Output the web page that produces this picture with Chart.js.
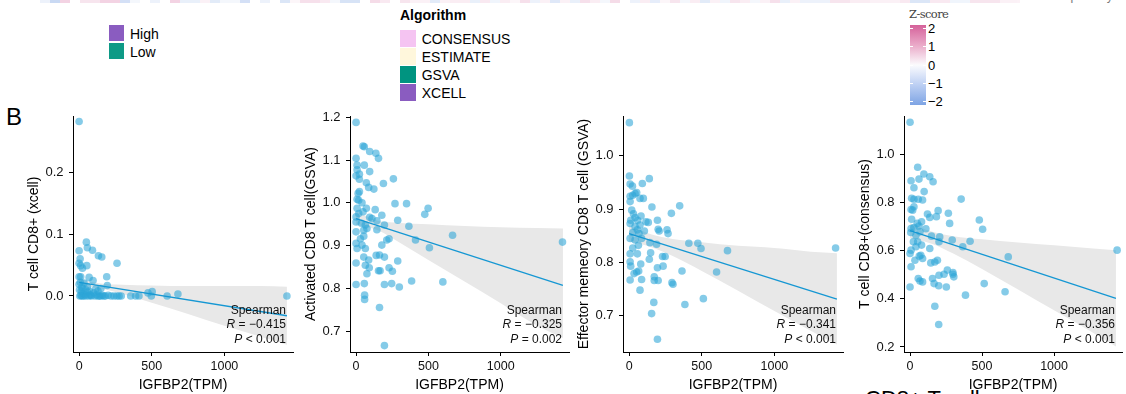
<!DOCTYPE html>
<html>
<head>
<meta charset="utf-8">
<script src="https://cdn.jsdelivr.net/npm/chart.js@4.4.1/dist/chart.umd.min.js"></script>
<style>
  body { margin:0; background:#fff; width:1126px; height:394px; overflow:hidden; position:relative;
         font-family:'Liberation Sans', Arial, sans-serif; color:#000; }
  .abs { position:absolute; white-space:nowrap; }
  canvas { position:absolute; }
  .lbl { position:absolute; font-size:14px; line-height:14px; white-space:nowrap; }
</style>
</head>
<body>
<div id="strip" class="abs" style="left:0;top:0;height:3px;width:1020px;opacity:0.55;display:flex"></div>
<div class="abs" style="left:1027px;top:-9px;font-size:12px;line-height:12px;color:#777;font-family:'Liberation Mono',monospace">tumor purity</div>
<div id="legends"></div>
<div class="abs" style="left:6px;top:104.7px;font-size:24px;line-height:24px">B</div>
<div class="abs" style="left:865px;top:388px;font-size:22px;line-height:22px">CD8+ T cell</div>
<div id="panels"></div>
<script>
// top heatmap strip (z-scores of the bottom row that is cut off)
const stripZ = [0,0,0,0,-0.5,-1.5,1,0,0.6,0.6,1,1,-1.2,-0.3,0,-0.5,0,1,-0.6,-0.6,
  0.3,-0.8,-0.3,-0.3,-1.2,0,-0.5,0,-1,0.2,0.7,0.7,0.5,-0.3,-1.1,-1.1,0,0.8,0.5,0,
  0.6,0.3,0.3,-0.8,0.3,0.4,0.4,-0.6,0.5,-0.4,0.4,0.2,0.7,-0.5,0.3,-0.9,0.3,-0.6,0.7,0.4,
  -0.3,0.8,0,-0.5,0.4,-0.7,0.2,0.6,-0.3,0.4,-0.8,0.3,-0.4,0.6,0.4,-0.3,0.3,0.7,-0.6,0.3,
  -0.5,-0.5,-0.5,0.6,0.6,0.4,0.4,0.3,0.3,0.3,0.5,-1,-1,0.5,0.5,-0.4,-0.4,0.6,0.6,0.6,0.3,0.3];

const groupLabels = ['High', 'Low'];
const groupColors = ['#8a5cc0', '#0e9a86'];
const algoLabels = ['CONSENSUS', 'ESTIMATE', 'GSVA', 'XCELL'];
const algoColors = ['#f5c4f2', '#fff7dc', '#009480', '#8a5cc0'];
const zTicks = ['2', '1', '0', '\u22121', '\u22122'];

// scatter panels: IGFBP2 (TPM) vs immune score
const xTicks = [0, 500, 1000];
const fitX = [0, 1430];
const bandX = [0, 150, 300, 500, 750, 1000, 1250, 1430];
const yTitles = ['T cell CD8+ (xcell)', 'Activated CD8 T cell(GSVA)',
  'Effector memeory CD8 T cell (GSVA)', 'T cell CD8+(consensus)'];
const statR = ['\u22120.415', '\u22120.325', '\u22120.341', '\u22120.356'];
const statP = ['< 0.001', '= 0.002', '< 0.001', '< 0.001'];

const p1Ticks = [0, 0.1, 0.2];
const p1Fit = [0.022, -0.032];
const p1BandHi = [0.028, 0.020, 0.018, 0.017, 0.016, 0.016, 0.016, 0.015];
const p1BandLo = [0.016, 0.012, 0.003, -0.011, -0.029, -0.048, -0.066, -0.079];
const p1Points = [[0,0.282],[50,0.087],[57,0.078],[0,0.073],[92,0.074],[7,0.060],[133,0.065],[156,0.063],
  [0,0.053],[11,0.049],[23,0.045],[53,0.049],[261,0.053],[0,0.031],[11,0.031],[69,0.030],[96,0.025],
  [190,0.031],[194,0.017],[0,0.019],[34,0.021],[57,0.015],[114,0.011],[3,0.010],[15,0.008],[28,0.004],
  [40,0.002],[60,0.006],[75,0.002],[85,0.000],[100,0.005],[120,0.002],[140,0.000],[160,0.001],[180,0.000],
  [200,0.001],[220,0.000],[240,0.000],[260,0.000],[275,0.000],[290,0.000],[5,0.000],[12,0.001],[20,0.000],
  [30,0.000],[45,0.000],[65,0.000],[80,0.001],[110,0.000],[130,0.000],[150,0.000],[170,0.000],[355,0.000],
  [389,0.000],[412,0.000],[474,0.005],[503,0.007],[497,0.000],[606,0.000],[680,0.003],[1430,0.000],
  [8,0.022],[18,0.014],[25,0.012],[45,0.010],[70,0.008],[130,0.008],[150,0.012]];

const p2Ticks = [0.7, 0.8, 0.9, 1.0, 1.1, 1.2];
const p2Fit = [0.963, 0.807];
const p2BandHi = [0.980, 0.958, 0.953, 0.950, 0.946, 0.943, 0.941, 0.940];
const p2BandLo = [0.948, 0.936, 0.907, 0.866, 0.816, 0.765, 0.713, 0.684];
const p2Points = [[0,1.188],[0,1.104],[7,1.088],[7,1.077],[23,1.067],[0,1.063],[23,1.055],[48,1.133],
  [57,1.131],[57,1.088],[94,1.120],[137,1.116],[155,1.104],[94,1.073],[71,1.047],[87,1.036],[123,1.032],
  [189,1.045],[258,1.056],[23,1.026],[14,1.022],[7,1.008],[18,1.006],[41,1.000],[7,0.987],[0,0.967],
  [18,0.975],[48,0.979],[71,0.987],[132,0.984],[269,0.998],[349,0.998],[498,0.987],[475,0.973],[94,0.966],
  [110,0.963],[144,0.958],[178,0.971],[288,0.959],[0,0.955],[37,0.952],[64,0.948],[0,0.932],[53,0.936],
  [75,0.940],[144,0.937],[196,0.948],[365,0.945],[30,0.916],[53,0.922],[0,0.905],[41,0.901],[7,0.893],
  [64,0.893],[178,0.901],[212,0.913],[228,0.916],[411,0.913],[507,0.895],[667,0.924],[1427,0.908],
  [53,0.873],[87,0.866],[139,0.877],[162,0.878],[196,0.873],[0,0.859],[64,0.854],[91,0.848],[75,0.834],
  [155,0.841],[166,0.841],[228,0.848],[251,0.840],[288,0.864],[0,0.809],[57,0.811],[196,0.809],[246,0.811],
  [299,0.803],[384,0.817],[600,0.815],[59,0.784],[59,0.774],[162,0.755],[196,0.666]];

const p3Ticks = [0.7, 0.8, 0.9, 1.0];
const p3Fit = [0.854, 0.731];
const p3BandHi = [0.869, 0.853, 0.844, 0.838, 0.831, 0.827, 0.820, 0.817];
const p3BandLo = [0.839, 0.829, 0.812, 0.784, 0.747, 0.709, 0.672, 0.646];
const p3Points = [[2,1.062],[2,0.962],[7,0.947],[23,0.943],[7,0.924],[25,0.926],[41,0.929],[52,0.931],
  [91,0.948],[139,0.957],[75,0.920],[98,0.920],[7,0.914],[157,0.904],[348,0.906],[18,0.898],[30,0.891],
  [11,0.879],[41,0.884],[59,0.879],[82,0.887],[116,0.876],[132,0.875],[195,0.879],[291,0.892],[7,0.873],
  [41,0.867],[75,0.870],[105,0.859],[207,0.859],[200,0.862],[261,0.861],[268,0.854],[25,0.856],[57,0.861],
  [68,0.854],[7,0.845],[41,0.842],[86,0.845],[143,0.837],[189,0.834],[64,0.832],[25,0.827],[411,0.836],
  [473,0.836],[495,0.826],[677,0.822],[1421,0.827],[7,0.816],[57,0.816],[148,0.818],[139,0.806],[248,0.811],
  [7,0.801],[80,0.797],[11,0.793],[234,0.793],[195,0.790],[230,0.811],[34,0.779],[52,0.782],[66,0.784],
  [364,0.784],[602,0.782],[7,0.767],[86,0.768],[173,0.766],[200,0.766],[295,0.762],[302,0.759],[173,0.773],
  [75,0.748],[170,0.725],[155,0.704],[384,0.721],[511,0.732],[195,0.656]];

const p4Ticks = [0.2, 0.4, 0.6, 0.8, 1.0];
const p4Fit = [0.683, 0.402];
const p4BandHi = [0.715, 0.679, 0.660, 0.647, 0.634, 0.622, 0.610, 0.602];
const p4BandLo = [0.651, 0.629, 0.588, 0.524, 0.439, 0.352, 0.266, 0.202];
const p4Points = [[0,1.133],[53,0.946],[7,0.890],[62,0.897],[96,0.918],[137,0.907],[160,0.886],[27,0.861],
  [98,0.845],[11,0.817],[57,0.813],[87,0.810],[27,0.813],[7,0.771],[18,0.768],[27,0.782],[355,0.814],
  [121,0.752],[137,0.738],[195,0.766],[183,0.741],[266,0.755],[275,0.713],[481,0.727],[504,0.689],[11,0.730],
  [50,0.713],[80,0.720],[7,0.692],[27,0.696],[62,0.702],[110,0.691],[5,0.675],[41,0.664],[69,0.678],
  [149,0.660],[206,0.657],[201,0.637],[293,0.644],[366,0.616],[417,0.639],[682,0.574],[1438,0.602],
  [7,0.602],[23,0.637],[53,0.637],[41,0.616],[64,0.577],[75,0.581],[0,0.588],[34,0.560],[87,0.567],
  [80,0.623],[137,0.609],[144,0.549],[172,0.553],[190,0.560],[7,0.533],[201,0.498],[236,0.502],[259,0.519],
  [298,0.502],[304,0.491],[298,0.509],[156,0.484],[57,0.484],[69,0.474],[87,0.470],[199,0.454],[167,0.463],
  [252,0.449],[0,0.449],[515,0.463],[660,0.429],[385,0.415],[172,0.369],[199,0.293]];

// ---------- top legends ----------
function zColor(z) {
  const top = [213, 97, 154], mid = [255, 255, 255], bot = [126, 164, 228];
  const t = Math.min(Math.abs(z) / 2, 1), c = z >= 0 ? top : bot;
  return 'rgb(' + mid.map((m, i) => Math.round(m + (c[i] - m) * t)).join(',') + ')';
}
const strip = document.getElementById('strip');
stripZ.forEach(z => {
  const d = document.createElement('div');
  d.style.cssText = 'width:10px;height:3px;background:' + zColor(z);
  strip.appendChild(d);
});

const leg = document.getElementById('legends');
function add(html) { leg.insertAdjacentHTML('beforeend', html); }
groupLabels.forEach((t, i) => {
  add(`<div class="abs" style="left:109px;top:${24.5 + i * 18}px;width:15px;height:16px;background:${groupColors[i]}"></div>`);
  add(`<div class="lbl" style="left:130px;top:${26.5 + i * 18}px">${t}</div>`);
});
add(`<div class="lbl" style="left:400px;top:8.2px;font-weight:bold">Algorithm</div>`);
algoLabels.forEach((t, i) => {
  add(`<div class="abs" style="left:400px;top:${30 + i * 18}px;width:16px;height:17px;background:${algoColors[i]}"></div>`);
  add(`<div class="lbl" style="left:421.7px;top:${31.5 + i * 18}px">${t}</div>`);
});
add(`<div class="abs" style="left:909px;top:7.5px;font-size:11.5px;line-height:12px;color:#444;font-family:'DejaVu Serif',serif;letter-spacing:-0.6px">Z-score</div>`);
add(`<div class="abs" style="left:910px;top:25px;width:16px;height:80px;background:linear-gradient(#d5619a,#eaa9c8 25%,#fbfbfd 50%,#bccff3 75%,#7ea4e4)"></div>`);
zTicks.forEach((t, i) => {
  const y = 28.3 + i * 18.35;
  add(`<div class="abs" style="left:910px;top:${y - 0.5}px;width:3px;height:1px;background:#fff"></div>`);
  add(`<div class="abs" style="left:923px;top:${y - 0.5}px;width:3px;height:1px;background:#fff"></div>`);
  add(`<div class="abs" style="left:928px;top:${y - 6.4}px;font-size:13px;line-height:13px">${t}</div>`);
});

// ---------- scatter panels ----------
const statsText = {
  id: 'statsText',
  afterDatasetsDraw(chart, args, opts) {
    const { ctx, chartArea: a } = chart;
    const right = a.right - 7;
    const reg = '12px "Liberation Sans", Arial, sans-serif';
    const ita = 'italic ' + reg;
    ctx.save();
    ctx.fillStyle = '#111';
    ctx.textAlign = 'right';
    ctx.textBaseline = 'alphabetic';
    ctx.font = reg;
    ctx.fillText('Spearman', right, a.bottom - 38);
    function pair(sym, rest, y) {
      ctx.font = reg;
      const w = ctx.measureText(rest).width;
      ctx.fillText(rest, right, y);
      ctx.font = ita;
      ctx.fillText(sym, right - w, y);
    }
    pair('R', ' = ' + opts.r, a.bottom - 23.7);
    pair('P', ' ' + opts.p, a.bottom - 9.4);
    ctx.restore();
  }
};

const panels = [
  { left: 26, width: 271, pts: p1Points, fit: p1Fit, hi: p1BandHi, lo: p1BandLo, ticks: p1Ticks, min: -0.0906, max: 0.291 },
  { left: 303, width: 270, pts: p2Points, fit: p2Fit, hi: p2BandHi, lo: p2BandLo, ticks: p2Ticks, min: 0.651, max: 1.203 },
  { left: 576, width: 271, pts: p3Points, fit: p3Fit, hi: p3BandHi, lo: p3BandLo, ticks: p3Ticks, min: 0.632, max: 1.0745 },
  { left: 857, width: 269, pts: p4Points, fit: p4Fit, hi: p4BandHi, lo: p4BandLo, ticks: p4Ticks, min: 0.179, max: 1.159 }
];

const axisFont = { family: '"Liberation Sans", Arial, sans-serif', size: 13 };
const titleFont = { family: '"Liberation Sans", Arial, sans-serif', size: 14 };

panels.forEach((p, k) => {
  const cv = document.createElement('canvas');
  cv.width = p.width;
  cv.height = 292;
  cv.style.left = p.left + 'px';
  cv.style.top = '102px';
  document.getElementById('panels').appendChild(cv);

  new Chart(cv, {
    type: 'line',
    data: {
      datasets: [
        { data: bandX.map((x, i) => ({ x, y: p.lo[i] })), borderWidth: 0, pointRadius: 0,
          fill: false, cubicInterpolationMode: 'monotone', order: 3 },
        { data: bandX.map((x, i) => ({ x, y: p.hi[i] })), borderWidth: 0, pointRadius: 0,
          fill: '-1', backgroundColor: '#e8e8e8', cubicInterpolationMode: 'monotone', order: 3 },
        { data: p.pts.map(d => ({ x: d[0], y: d[1] })), showLine: false, pointRadius: 3.8,
          pointBackgroundColor: 'rgba(45,165,215,0.58)', pointBorderWidth: 0, clip: false, order: 2 },
        { data: fitX.map((x, i) => ({ x, y: p.fit[i] })), borderColor: '#1597d3', borderWidth: 1.3,
          pointRadius: 0, fill: false, order: 1 }
      ]
    },
    options: {
      responsive: false,
      animation: false,
      events: [],
      layout: { padding: { top: 14, right: 2, left: 0, bottom: 0 } },
      plugins: {
        legend: { display: false },
        tooltip: { enabled: false },
        statsText: { r: statR[k], p: statP[k] }
      },
      scales: {
        x: {
          type: 'linear', min: -42, max: 1472,
          afterBuildTicks: s => { s.ticks = xTicks.map(v => ({ value: v })); },
          afterFit: s => { s.height = 42; },
          border: { display: true, color: '#000', width: 1 },
          grid: { drawOnChartArea: false, drawTicks: true, tickLength: 4, color: '#000' },
          ticks: { padding: 3.5, color: '#111', font: { ...axisFont, size: 12.5 }, autoSkip: false, maxRotation: 0,
                   callback: v => String(v) },
          title: { display: true, text: 'IGFBP2(TPM)', color: '#000', font: titleFont, padding: 0 }
        },
        y: {
          type: 'linear', min: p.min, max: p.max,
          afterBuildTicks: s => { s.ticks = p.ticks.map(v => ({ value: v })); },
          afterFit: s => { s.width = 47; },
          border: { display: true, color: '#000', width: 1 },
          grid: { drawOnChartArea: false, drawTicks: true, tickLength: 4, color: '#000' },
          ticks: { padding: 5.5, color: '#111', font: axisFont, autoSkip: false,
                   callback: v => Number(v).toFixed(1) },
          title: { display: true, text: yTitles[k], color: '#000', font: titleFont, padding: 0 }
        }
      }
    },
    plugins: [statsText]
  });
});
</script>
</body>
</html>
